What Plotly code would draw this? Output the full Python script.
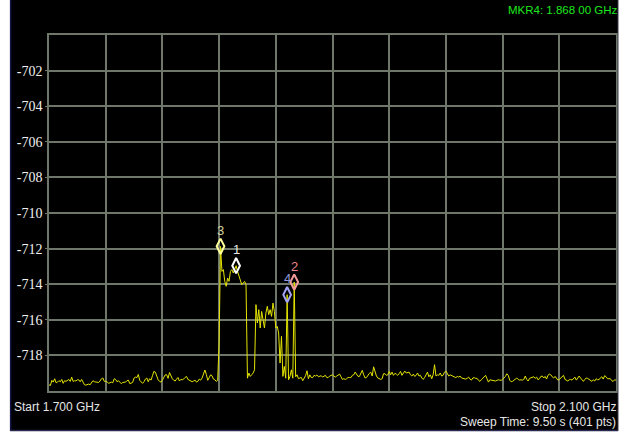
import numpy as np
import plotly.graph_objects as go

# Sweep setup: 1.700 - 2.100 GHz, 401 points
start_ghz = 1.700
stop_ghz = 2.100
n_points = 401
freq_ghz = np.linspace(start_ghz, stop_ghz, n_points)

# Trace amplitude (dBm), one value per sweep point
trace_dbm = [
    -719.65, -719.69, -719.40, -719.50, -719.31, -719.54, -719.50, -719.42, -719.48, -719.35,
    -719.57, -719.42, -719.46, -719.40, -719.35, -719.46, -719.22, -719.46, -719.42, -719.44,
    -719.37, -719.37, -719.48, -719.35, -719.52, -719.65, -719.67, -719.63, -719.61, -719.65,
    -719.50, -719.42, -719.48, -719.48, -719.50, -719.52, -719.44, -719.31, -719.27, -719.46,
    -719.46, -719.48, -719.57, -719.54, -719.50, -719.54, -719.31, -719.35, -719.48, -719.42,
    -719.54, -719.59, -719.52, -719.52, -719.50, -719.42, -719.39, -719.59, -719.54, -719.52,
    -719.27, -719.22, -719.25, -719.07, -719.40, -719.48, -719.57, -719.48, -719.33, -719.27,
    -719.48, -719.31, -719.39, -719.14, -718.90, -718.94, -719.18, -719.37, -719.46, -719.50,
    -719.39, -719.22, -719.09, -719.09, -719.29, -718.96, -719.16, -719.31, -719.40, -719.44,
    -719.33, -719.24, -719.44, -719.35, -719.37, -719.33, -719.24, -719.18, -719.35, -719.40,
    -719.44, -719.48, -719.44, -719.39, -719.50, -719.46, -719.33, -719.39, -719.27, -718.97,
    -718.82, -719.07, -719.40, -719.25, -719.09, -719.14, -719.33, -719.37, -719.46, -719.40,
    # 1.820 GHz onward: signal bursts
    -717.30, -711.87, -713.28, -713.18, -713.84, -714.12, -713.65, -713.84, -713.28, -713.18,
    -713.37, -713.18, -712.96, -713.28, -713.56, -713.84, -714.03, -713.93, -713.84, -714.03,
    -719.28, -718.99, -719.18, -719.09, -718.99, -718.81, -715.15, -716.18, -715.43, -716.46,
    -715.53, -715.99, -716.46, -715.62, -715.24, -715.71, -715.43, -715.81, -715.06, -715.53,
    -716.46, -716.37, -716.74, -718.43, -716.93, -719.18, -718.62, -719.28, -714.59, -719.37,
    -719.18, -718.81, -719.28, -713.88, -719.20, -719.09, -719.31, -719.27, -719.24, -719.42,
    -719.31, -719.14, -718.86, -719.31, -719.09, -719.24, -719.25, -719.12, -719.16, -719.10,
    -719.20, -719.18, -719.14, -719.22, -719.16, -719.12, -719.25, -719.24, -719.16, -719.12,
    -719.09, -719.16, -719.22, -719.16, -719.09, -719.05, -719.20, -719.35, -719.31, -719.35,
    -719.31, -719.24, -719.24, -719.25, -719.12, -719.09, -718.94, -719.03, -719.18, -719.18,
    -719.01, -718.84, -719.09, -719.27, -719.24, -719.10, -719.01, -718.94, -719.16, -718.64,
    -718.94, -719.16, -719.27, -719.31, -719.35, -719.31, -719.03, -719.03, -719.12, -719.09,
    -718.90, -719.09, -718.94, -719.12, -719.01, -719.05, -719.12, -719.03, -718.90, -719.12,
    -718.99, -718.88, -718.99, -718.97, -718.94, -719.09, -719.16, -719.05, -719.18, -719.12,
    -718.99, -719.16, -719.12, -719.27, -719.35, -719.24, -719.09, -718.94, -719.20, -719.09,
    -719.31, -719.09, -718.52, -719.16, -719.09, -719.12, -718.99, -719.16, -719.12, -718.94,
    -718.88, -719.05, -719.16, -719.09, -719.12, -719.18, -719.22, -719.25, -719.18, -719.22,
    -719.16, -719.27, -719.29, -719.31, -719.33, -719.29, -719.22, -719.33, -719.39, -719.27,
    -719.25, -719.29, -719.29, -719.40, -719.46, -719.37, -719.27, -719.16, -719.12, -719.31,
    -719.50, -719.37, -719.39, -719.37, -719.42, -719.44, -719.40, -719.37, -719.39, -719.40,
    -719.35, -719.27, -719.18, -719.03, -719.12, -719.39, -719.48, -719.46, -719.39, -719.35,
    -719.27, -719.35, -719.39, -719.37, -719.39, -719.35, -719.16, -719.35, -719.44, -719.29,
    -719.25, -719.24, -719.20, -719.29, -719.22, -719.37, -719.31, -719.18, -719.16, -719.27,
    -719.18, -719.33, -719.12, -719.05, -719.09, -719.20, -719.27, -719.18, -719.27, -719.39,
    -719.35, -719.27, -719.18, -719.12, -719.35, -719.40, -719.44, -719.37, -719.35, -719.39,
    -719.33, -719.22, -719.39, -719.27, -719.16, -719.27, -719.37, -719.46, -719.35, -719.27,
    -719.29, -719.35, -719.44, -719.46, -719.37, -719.44, -719.31, -719.37, -719.35, -719.24,
    -719.20, -719.33, -719.14, -719.20, -719.31, -719.31, -719.31, -719.42, -719.46, -719.37,
    -719.39,
]

# Markers: label, sweep point frequency (GHz), colours
marker_labels = ["1", "2", "3", "4"]
marker_freqs = [1.832, 1.873, 1.821, 1.868]
marker_colors = ["#ffffff", "#f49a9a", "#ffff9a", "#a3a3f5"]
marker_text_colors = ["#e8e8e8", "#e88888", "#d2d29a", "#9898dd"]

# Amplitude axis
y_min, y_max = -720, -700
y_tick_vals = [-718, -716, -714, -712, -710, -708, -706, -704, -702]
y_tick_text = ["-718", "-716", "-714", "-712", "-710", "-708", "-706", "-704", "-702"]

# Canvas geometry
W, H = 628, 434
L, R, T, B = 49, 10, 35, 43
plot_w = W - L - R
plot_h = H - T - B
GRID = "#6e7769"


def px_x(px):
    return (px - L) / plot_w


def px_y(py):
    return (H - B - py) / plot_h


fig = go.Figure()

fig.add_trace(go.Scatter(
    x=freq_ghz, y=trace_dbm, mode="lines",
    line=dict(color="#e4e400", width=1),
    hoverinfo="skip", showlegend=False,
))

trace_arr = np.array(trace_dbm)
for lab, f, c, tc in zip(marker_labels, marker_freqs, marker_colors, marker_text_colors):
    idx = int(round((f - start_ghz) / (stop_ghz - start_ghz) * (n_points - 1)))
    fx, fy = freq_ghz[idx], trace_arr[idx]
    fig.add_trace(go.Scatter(
        x=[fx], y=[fy], mode="markers",
        marker=dict(symbol="diamond-tall-open", size=11, color=c, line=dict(color=c, width=2)),
        hoverinfo="skip", showlegend=False,
    ))
    fig.add_annotation(
        x=fx, y=fy, text=lab, showarrow=False, yshift=16,
        font=dict(family="Liberation Sans", size=13, color=tc),
    )

# Instrument panel background and edges
fig.add_shape(type="rect", xref="paper", yref="paper",
              x0=px_x(10), x1=px_x(620), y0=px_y(431), y1=px_y(0),
              fillcolor="black", line=dict(width=0), layer="below")
fig.add_shape(type="line", xref="paper", yref="paper",
              x0=px_x(10.5), x1=px_x(10.5), y0=px_y(431), y1=px_y(0),
              line=dict(color="#15154a", width=1.5))
fig.add_shape(type="line", xref="paper", yref="paper",
              x0=px_x(10), x1=px_x(620), y0=px_y(430.5), y1=px_y(430.5),
              line=dict(color="#2a2a50", width=1.5))
fig.add_shape(type="line", xref="paper", yref="paper",
              x0=px_x(620), x1=px_x(620), y0=px_y(431), y1=px_y(0),
              line=dict(color="#3a3a4a", width=1))

text_font = dict(family="Liberation Sans", size=12, color="#e6e6e6")
fig.add_annotation(xref="paper", yref="paper", x=px_x(12), y=px_y(407),
                   text="Start 1.700 GHz", showarrow=False,
                   xanchor="left", yanchor="middle", font=text_font)
fig.add_annotation(xref="paper", yref="paper", x=px_x(620), y=px_y(407),
                   text="Stop 2.100 GHz", showarrow=False,
                   xanchor="right", yanchor="middle", font=text_font)
fig.add_annotation(xref="paper", yref="paper", x=px_x(620), y=px_y(422),
                   text="Sweep Time: 9.50 s (401 pts)", showarrow=False,
                   xanchor="right", yanchor="middle", font=text_font)
fig.add_annotation(xref="paper", yref="paper", x=px_x(622), y=px_y(10),
                   text="MKR4: 1.868 00 GHz", showarrow=False,
                   xanchor="right", yanchor="middle",
                   font=dict(family="Liberation Sans", size=11.5, color="#1ee61e"))

fig.update_layout(
    width=W, height=H,
    margin=dict(l=L, r=R, t=T, b=B, pad=0),
    paper_bgcolor="white",
    plot_bgcolor="black",
    xaxis=dict(
        range=[start_ghz, stop_ghz], dtick=0.04, tick0=start_ghz,
        showticklabels=False, ticks="",
        showgrid=True, gridcolor=GRID, gridwidth=1.5,
        showline=True, linecolor=GRID, linewidth=1.5, mirror=True,
        zeroline=False, fixedrange=True,
    ),
    yaxis=dict(
        range=[y_min, y_max], tickvals=y_tick_vals, ticktext=y_tick_text,
        tickfont=dict(family="Liberation Serif", size=14, color="#f0f0f0"),
        ticks="outside", ticklen=2, tickcolor=GRID,
        showgrid=True, gridcolor=GRID, gridwidth=1.5,
        showline=True, linecolor=GRID, linewidth=1.5, mirror=True,
        zeroline=False, fixedrange=True,
    ),
)

fig.write_html("out.html")
